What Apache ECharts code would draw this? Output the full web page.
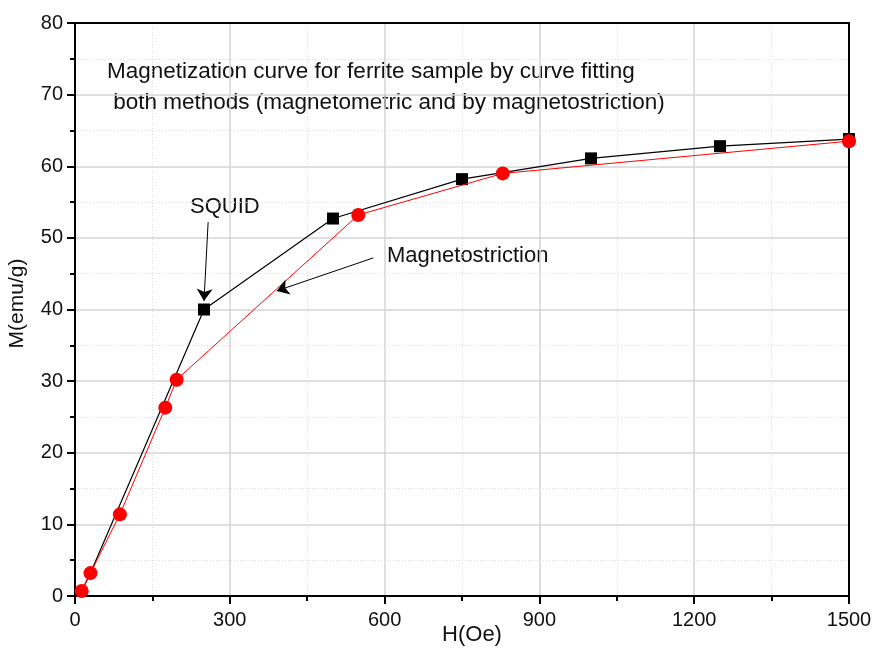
<!DOCTYPE html>
<html>
<head>
<meta charset="utf-8">
<script src="https://cdn.jsdelivr.net/npm/echarts@6/dist/echarts.min.js"></script>
<style>html,body{margin:0;padding:0;background:#fff;}#c{width:875px;height:648px;}</style>
</head>
<body>
<div id="c"></div>
<script>
// SQUID (magnetometric) data: H (Oe), M (emu/g)
const squidH = [13, 30, 250, 500, 750, 1000, 1250, 1500];
const squidM = [0.7, 3.2, 40.0, 52.7, 58.2, 61.1, 62.8, 63.8];
const squidHidden = [true, true, false, false, false, false, false, false];
// Magnetostriction data
const magH = [13, 30, 87, 175, 197, 549, 829, 1500];
const magM = [0.7, 3.2, 11.4, 26.3, 30.2, 53.2, 59.0, 63.5];
// axis ticks
const xTicks = [0, 300, 600, 900, 1200, 1500];
const yTicks = [0, 10, 20, 30, 40, 50, 60, 70, 80];
// annotation text
const titleLines = ['Magnetization curve for ferrite sample by curve fitting', ' both methods (magnetometric and by magnetostriction)'];
const squidLabel = 'SQUID';
const magLabel = 'Magnetostriction';
// arrows [from, to] in data coordinates
const squidArrow = [[258, 52.2], [250, 41.2]];
const magArrow = [[578, 47.2], [391, 42.6]];

const font = "'Liberation Sans', Arial, sans-serif";
const chart = echarts.init(document.getElementById('c'), null, {renderer: 'canvas'});

const squidData = squidH.map((h, i) => squidHidden[i]
  ? {value: [h, squidM[i]], symbol: 'none'}
  : [h, squidM[i]]);
const magData = magH.map((h, i) => [h, magM[i]]);

const arrowLine = (a) => [{coord: a[0]}, {coord: a[1]}];

chart.setOption({
  animation: false,
  backgroundColor: '#fff',
  grid: {left: 75, right: 26, top: 23, bottom: 52, containLabel: false, outerBoundsMode: 'none'},
  xAxis: [{
    type: 'value', min: xTicks[0], max: xTicks[xTicks.length - 1], interval: 300,
    name: 'H(Oe)', nameLocation: 'middle', nameGap: 28, nameMoveOverlap: false,
    nameTextStyle: {fontFamily: font, fontSize: 22, color: '#111', padding: [0, 0, 0, 20]},
    axisLine: {onZero: false, lineStyle: {color: '#000', width: 2}},
    axisTick: {show: true, inside: false, length: 8, lineStyle: {color: '#000', width: 2}},
    minorTick: {show: true, splitNumber: 2, length: 5, lineStyle: {color: '#000', width: 2}},
    axisLabel: {fontFamily: font, fontSize: 20, color: '#111', margin: 14, formatter: (v) => String(v)},
    splitLine: {show: true, lineStyle: {color: '#d4d4d4', width: 1.5}},
    minorSplitLine: {show: true, lineStyle: {color: '#dcdcdc', width: 1, type: [1, 2]}}
  }, {
    type: 'value', position: 'top', min: 0, max: 1500,
    axisLine: {onZero: false, lineStyle: {color: '#000', width: 2}},
    axisTick: {show: false}, axisLabel: {show: false}, splitLine: {show: false}
  }],
  yAxis: [{
    type: 'value', min: yTicks[0], max: yTicks[yTicks.length - 1], interval: 10,
    name: 'M(emu/g)', nameLocation: 'middle', nameGap: 47, nameMoveOverlap: false,
    nameTextStyle: {fontFamily: font, fontSize: 21, color: '#111', padding: [0, 0, 0, 12]},
    axisLine: {onZero: false, lineStyle: {color: '#000', width: 2}},
    axisTick: {show: true, inside: false, length: 8, lineStyle: {color: '#000', width: 2}},
    minorTick: {show: true, splitNumber: 2, length: 5, lineStyle: {color: '#000', width: 2}},
    axisLabel: {fontFamily: font, fontSize: 20, color: '#111', margin: 12},
    splitLine: {show: true, lineStyle: {color: '#d4d4d4', width: 1.5}},
    minorSplitLine: {show: true, lineStyle: {color: '#dcdcdc', width: 1, type: [1, 2]}}
  }, {
    type: 'value', position: 'right', min: 0, max: 80,
    axisLine: {show: true, onZero: false, lineStyle: {color: '#000', width: 2}},
    axisTick: {show: false}, axisLabel: {show: false}, splitLine: {show: false}
  }],
  series: [{
    name: 'SQUID', type: 'line', data: squidData,
    symbol: 'rect', symbolSize: 12,
    lineStyle: {color: '#000', width: 1.2},
    itemStyle: {color: '#000'},
    z: 3,
    markLine: {
      silent: true, symbol: ['none', 'arrow'], symbolSize: 12,
      label: {show: false},
      lineStyle: {color: '#000', width: 1, type: 'solid'},
      itemStyle: {color: '#000'},
      data: [arrowLine(squidArrow), arrowLine(magArrow)]
    }
  }, {
    name: 'Magnetostriction', type: 'line', data: magData,
    symbol: 'circle', symbolSize: 14,
    lineStyle: {color: '#ff0000', width: 1},
    itemStyle: {color: '#ff0000'},
    z: 4
  }],
  graphic: [
    {type: 'text', left: 107, top: 60, style: {text: titleLines[0], font: '22.5px ' + font, fill: '#111'}},
    {type: 'text', left: 107, top: 91, style: {text: titleLines[1], font: '22.5px ' + font, fill: '#111'}},
    {type: 'text', left: 190, top: 196, style: {text: squidLabel, font: '22px ' + font, fill: '#111'}},
    {type: 'text', left: 387, top: 245, style: {text: magLabel, font: '22px ' + font, fill: '#111'}}
  ]
});
</script>
</body>
</html>
